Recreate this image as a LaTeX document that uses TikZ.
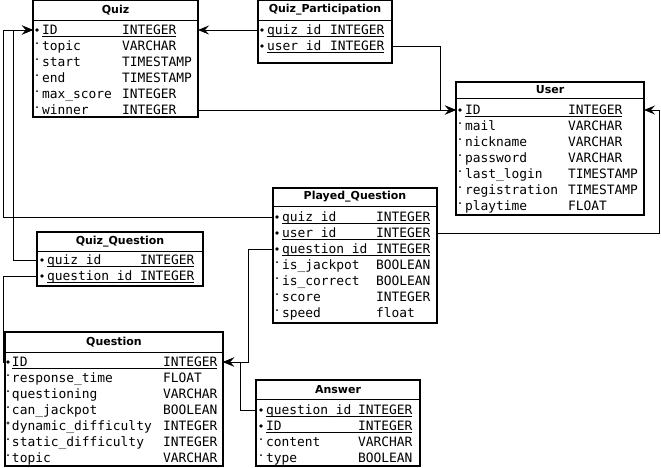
\documentclass[tikz,border=0pt]{standalone}
\usepackage{fontspec}
\setmainfont{DejaVu Sans}
\setmonofont{DejaVu Sans Mono}
\usetikzlibrary{arrows.meta}

\begin{document}
\begin{tikzpicture}[x=1pt, y=-1pt,
  every node/.style={inner sep=0pt, outer sep=0pt},
  tbl/.style={draw, line width=1.1pt, anchor=north west},
  head/.style={font=\fontsize{11}{11}\selectfont\bfseries},
  fld/.style={anchor=west, text height=9.3pt, text depth=0pt, font=\fontsize{12.9}{13}\selectfont\ttfamily},
  fk/.style={line width=1pt, -{Stealth[length=11pt, width=9pt, inset=4pt]}},
  link/.style={line width=1pt},
  uline/.style={line width=1pt}]
\fill[white] (0,0) rectangle (661,467);
\useasboundingbox (0,0) rectangle (661,467);

% tables
\node[tbl, minimum width=165pt, minimum height=116.5pt] (quiz) at (33,0.5) {};
\node[tbl, minimum width=134pt, minimum height=62.5pt] (qp) at (258,0.5) {};
\node[tbl, minimum width=188pt, minimum height=133pt] (user) at (456,82) {};
\node[tbl, minimum width=164pt, minimum height=135pt] (pq) at (273,188) {};
\node[tbl, minimum width=166pt, minimum height=54pt] (qq) at (37,232) {};
\node[tbl, minimum width=218pt, minimum height=134pt] (quest) at (5,332) {};
\node[tbl, minimum width=164pt, minimum height=86pt] (ans) at (256,380) {};

\node[head] (quizT) at (115.5,10) {Quiz};
\node[head] (qpT) at (325,10) {Quiz\_Participation};
\node[head] (userT) at (550,90) {User};
\node[head] (pqT) at (355,197) {Played\_Question};
\node[head] (qqT) at (120,241.5) {Quiz\_Question};
\node[head] (questT) at (114,342) {Question};
\node[head] (ansT) at (338,389.5) {Answer};

\draw[line width=1pt] (33,20) -- (198,20);
\draw[line width=1pt] (258,20) -- (392,20);
\draw[line width=1pt] (456,98) -- (644,98);
\draw[line width=1pt] (273,206) -- (437,206);
\draw[line width=1pt] (37,251) -- (203,251);
\draw[line width=1pt] (5,352) -- (223,352);
\draw[line width=1pt] (256,399) -- (420,399);

% Quiz
\node[fld] (quizID) at (42,30) {ID};
\node[fld] (quizIDt) at (122,30) {INTEGER};
\node[fld] (quizTop) at (42,46) {topic};
\node[fld] (quizTopt) at (122,46) {VARCHAR};
\node[fld] (quizSt) at (42,62) {start};
\node[fld] (quizStt) at (122,62) {TIMESTAMP};
\node[fld] (quizEnd) at (42,78) {end};
\node[fld] (quizEndt) at (122,78) {TIMESTAMP};
\node[fld] (quizMax) at (42,94) {max\_score};
\node[fld] (quizMaxt) at (122,94) {INTEGER};
\node[fld] (quizWin) at (42,110) {winner};
\node[fld] (quizWint) at (122,110) {INTEGER};
\draw[uline] ([yshift=-2pt]quizID.base west) -- ([yshift=-2pt]quizIDt.base east);
\fill (37,30) circle (1.8pt) (37,43) circle (1pt) (37,59) circle (1pt) (37,75) circle (1pt)
  (37,91) circle (1pt) (37,107) circle (1pt);

% Quiz_Participation
\node[fld] (qpQuiz) at (267,30) {quiz\_id};
\node[fld] (qpQuizt) at (330,30) {INTEGER};
\node[fld] (qpUser) at (267,46) {user\_id};
\node[fld] (qpUsert) at (330,46) {INTEGER};
\draw[uline] ([yshift=-2pt]qpQuiz.base west) -- ([yshift=-2pt]qpQuizt.base east);
\draw[uline] ([yshift=-2pt]qpUser.base west) -- ([yshift=-2pt]qpUsert.base east);
\fill (262,30) circle (1.8pt) (262,46) circle (1.8pt);

% User
\node[fld] (userID) at (465,110) {ID};
\node[fld] (userIDt) at (568,110) {INTEGER};
\node[fld] (userMail) at (465,126) {mail};
\node[fld] (userMailt) at (568,126) {VARCHAR};
\node[fld] (userNick) at (465,142) {nickname};
\node[fld] (userNickt) at (568,142) {VARCHAR};
\node[fld] (userPw) at (465,158) {password};
\node[fld] (userPwt) at (568,158) {VARCHAR};
\node[fld] (userLast) at (465,174) {last\_login};
\node[fld] (userLastt) at (568,174) {TIMESTAMP};
\node[fld] (userReg) at (465,190) {registration};
\node[fld] (userRegt) at (568,190) {TIMESTAMP};
\node[fld] (userPlay) at (465,206) {playtime};
\node[fld] (userPlayt) at (568,206) {FLOAT};
\draw[uline] ([yshift=-2pt]userID.base west) -- ([yshift=-2pt]userIDt.base east);
\fill (460,110) circle (1.8pt) (460,123) circle (1pt) (460,139) circle (1pt) (460,155) circle (1pt)
  (460,171) circle (1pt) (460,187) circle (1pt) (460,203) circle (1pt);

% Played_Question
\node[fld] (pqQuiz) at (282,217) {quiz\_id};
\node[fld] (pqQuizt) at (376,217) {INTEGER};
\node[fld] (pqUser) at (282,233) {user\_id};
\node[fld] (pqUsert) at (376,233) {INTEGER};
\node[fld] (pqQuest) at (282,249) {question\_id};
\node[fld] (pqQuestt) at (376,249) {INTEGER};
\node[fld] (pqJack) at (282,265) {is\_jackpot};
\node[fld] (pqJackt) at (376,265) {BOOLEAN};
\node[fld] (pqCorr) at (282,281) {is\_correct};
\node[fld] (pqCorrt) at (376,281) {BOOLEAN};
\node[fld] (pqScore) at (282,297) {score};
\node[fld] (pqScoret) at (376,297) {INTEGER};
\node[fld] (pqSpeed) at (282,313) {speed};
\node[fld] (pqSpeedt) at (376,313) {float};
\draw[uline] ([yshift=-2pt]pqQuiz.base west) -- ([yshift=-2pt]pqQuizt.base east);
\draw[uline] ([yshift=-2pt]pqUser.base west) -- ([yshift=-2pt]pqUsert.base east);
\draw[uline] ([yshift=-2pt]pqQuest.base west) -- ([yshift=-2pt]pqQuestt.base east);
\fill (277,217) circle (1.8pt) (277,233) circle (1.8pt) (277,249) circle (1.8pt)
  (277,262) circle (1pt) (277,278) circle (1pt) (277,294) circle (1pt) (277,310) circle (1pt);

% Quiz_Question
\node[fld] (qqQuiz) at (47,260) {quiz\_id};
\node[fld] (qqQuizt) at (140,260) {INTEGER};
\node[fld] (qqQuest) at (47,276) {question\_id};
\node[fld] (qqQuestt) at (140,276) {INTEGER};
\draw[uline] ([yshift=-2pt]qqQuiz.base west) -- ([yshift=-2pt]qqQuizt.base east);
\draw[uline] ([yshift=-2pt]qqQuest.base west) -- ([yshift=-2pt]qqQuestt.base east);
\fill (42,260) circle (1.8pt) (42,276) circle (1.8pt);

% Question
\node[fld] (questID) at (12,362) {ID};
\node[fld] (questIDt) at (163,362) {INTEGER};
\node[fld] (questResp) at (12,378) {response\_time};
\node[fld] (questRespt) at (163,378) {FLOAT};
\node[fld] (questQ) at (12,394) {questioning};
\node[fld] (questQt) at (163,394) {VARCHAR};
\node[fld] (questCan) at (12,410) {can\_jackpot};
\node[fld] (questCant) at (163,410) {BOOLEAN};
\node[fld] (questDyn) at (12,426) {dynamic\_difficulty};
\node[fld] (questDynt) at (163,426) {INTEGER};
\node[fld] (questStat) at (12,442) {static\_difficulty};
\node[fld] (questStatt) at (163,442) {INTEGER};
\node[fld] (questTop) at (12,458) {topic};
\node[fld] (questTopt) at (163,458) {VARCHAR};
\draw[uline] ([yshift=-2pt]questID.base west) -- ([yshift=-2pt]questIDt.base east);
\fill (8,362) circle (1.8pt) (8,375) circle (1pt) (8,391) circle (1pt) (8,407) circle (1pt)
  (8,439) circle (1pt) (8,455) circle (1pt);
\draw[line width=0.5pt] (8,423) circle (1.3pt);

% Answer
\node[fld] (ansQuest) at (266,410) {question\_id};
\node[fld] (ansQuestt) at (358,410) {INTEGER};
\node[fld] (ansID) at (266,426) {ID};
\node[fld] (ansIDt) at (358,426) {INTEGER};
\node[fld] (ansCont) at (266,442) {content};
\node[fld] (ansContt) at (358,442) {VARCHAR};
\node[fld] (ansType) at (266,458) {type};
\node[fld] (ansTypet) at (358,458) {BOOLEAN};
\draw[uline] ([yshift=-2pt]ansQuest.base west) -- ([yshift=-2pt]ansQuestt.base east);
\draw[uline] ([yshift=-2pt]ansID.base west) -- ([yshift=-2pt]ansIDt.base east);
\fill (261,410) circle (1.8pt) (261,426) circle (1.8pt) (261,439) circle (1pt) (261,455) circle (1pt);

% connectors
\coordinate (railA) at (3,0);
\coordinate (railB) at (13,0);
\coordinate (railC) at (659,0);
\coordinate (railD) at (248,0);
\coordinate (railE) at (240,0);
\coordinate (railF) at (440,0);

\draw[fk] (qp.west |- qpQuiz) -- (quiz.east |- quizID);
\draw[fk] (quiz.east |- quizWin) -- (user.west |- userID);
\draw[fk] (qp.east |- qpUser) -| (railF |- userID) -- (user.west |- userID);
\draw[fk] (pq.west |- pqQuiz) -| (railA |- quizID) -- (quiz.west |- quizID);
\draw[fk] (qq.west |- qqQuiz) -| (railB |- quizID) -- (quiz.west |- quizID);
\draw[fk] (pq.east |- pqUser) -| (railC |- userID) -- (user.east |- userID);
\draw[fk] (pq.west |- pqQuest) -| (railD |- questID) -- (quest.east |- questID);
\draw[fk] (ans.west |- ansQuest) -| (railE |- questID) -- (quest.east |- questID);
\draw[link] (qq.west |- qqQuest) -| (railA |- questID) -- (quest.west |- questID);
\end{tikzpicture}
\end{document}
